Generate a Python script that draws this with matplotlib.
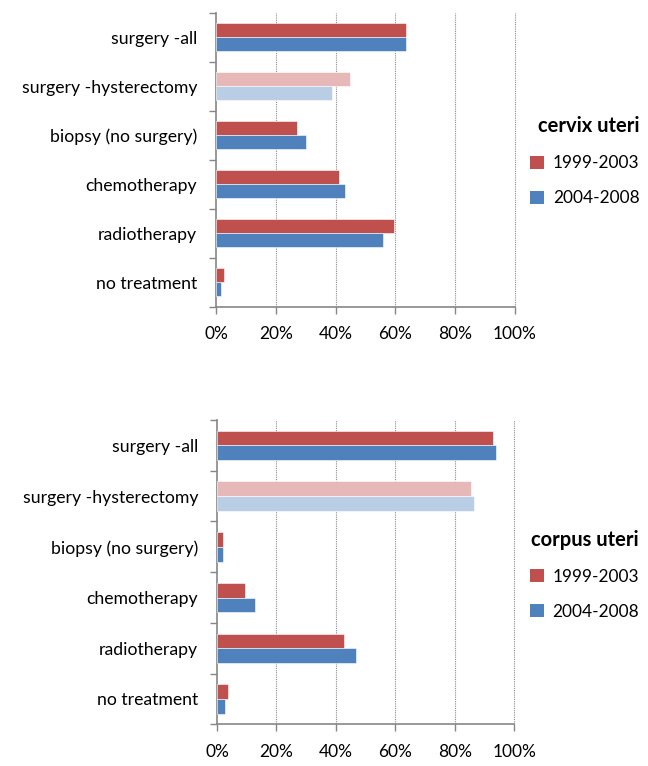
import numpy as np
import matplotlib.pyplot as plt
from matplotlib.patches import Patch

# Data (share of patients, %)
categories = ['surgery -all', 'surgery -hysterectomy', 'biopsy (no surgery)',
              'chemotherapy', 'radiotherapy', 'no treatment']
periods = ['1999-2003', '2004-2008']

cervix_1999 = [63.4, 44.7, 27.2, 41.2, 59.5, 2.8]
cervix_2004 = [63.5, 38.8, 30.2, 43.1, 55.7, 1.8]
corpus_1999 = [92.8, 85.3, 2.1, 9.4, 42.8, 3.6]
corpus_2004 = [93.7, 86.3, 2.1, 12.9, 46.8, 2.6]

xticks = [0, 20, 40, 60, 80, 100]

# Colours
red = '#C0504D'
blue = '#4F81BD'
red_light = '#E6B9B8'
blue_light = '#B9CDE5'

plt.rcParams['font.family'] = ['Lato', 'DejaVu Sans']

fig = plt.figure(figsize=(6.48, 7.66), dpi=100)
ax1 = fig.add_axes([0.3333, 0.5996, 0.4614, 0.3838])
ax2 = fig.add_axes([0.3349, 0.0544, 0.4588, 0.3973])


def draw_panel(ax, v1, v2, title, leg_y):
    y = np.arange(len(categories))
    h = 0.29
    c1 = [red_light if i == 1 else red for i in range(len(categories))]
    c2 = [blue_light if i == 1 else blue for i in range(len(categories))]
    ax.barh(y - h / 2, v1, height=h, color=c1, edgecolor='white', linewidth=0.4, zorder=3)
    ax.barh(y + h / 2, v2, height=h, color=c2, edgecolor='white', linewidth=0.4, zorder=3)

    ax.set_ylim(len(categories) - 0.5, -0.5)
    ax.set_xlim(0, 100)
    ax.set_yticks(y)
    ax.set_yticklabels(categories, fontsize=12.7)
    ax.set_yticks(np.arange(len(categories) + 1) - 0.5, minor=True)
    ax.tick_params(axis='y', which='major', length=0, pad=13.5)
    ax.tick_params(axis='y', which='minor', length=5, color='#868686', width=1)
    ax.set_xticks(xticks)
    ax.set_xticklabels([f'{t}%' for t in xticks], fontsize=12.5)
    ax.tick_params(axis='x', length=5, color='#868686', width=1, pad=9)

    for t in xticks[1:]:
        ax.axvline(t, color='#8c8c8c', linestyle=(0, (1, 1)), linewidth=0.8,
                   zorder=1, clip_on=False)

    for s in ['top', 'right']:
        ax.spines[s].set_visible(False)
    for s in ['left', 'bottom']:
        ax.spines[s].set_color('#868686')
        ax.spines[s].set_linewidth(1.2)

    handles = [Patch(facecolor=red, label=periods[0]), Patch(facecolor=blue, label=periods[1])]
    leg = ax.legend(handles=handles, loc='upper left', bbox_to_anchor=(1.0, leg_y),
                    frameon=False, title=title, fontsize=12.4,
                    title_fontproperties={'weight': 'bold', 'size': 14.5},
                    handlelength=0.8, handleheight=0.8, handletextpad=0.5,
                    labelspacing=1.1)
    leg._legend_box.align = 'right'


draw_panel(ax1, cervix_1999, cervix_2004, 'cervix uteri', 0.70)
draw_panel(ax2, corpus_1999, corpus_2004, 'corpus uteri', 0.69)

fig.savefig('out.png', dpi=100)
